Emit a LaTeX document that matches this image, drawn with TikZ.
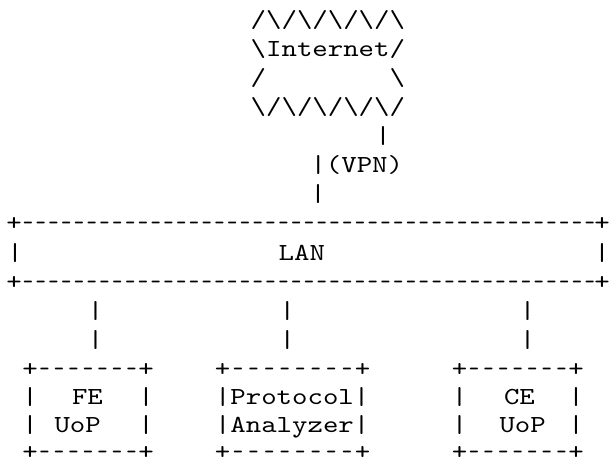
\documentclass[tikz,border=0pt]{standalone}
\usepackage{fontspec}
\newfontfamily\asciifont{lmmono10-regular.otf}[FakeStretch=1.2]
\newfontfamily\dashfont{lmmono10-regular.otf}[FakeStretch=0.8]
\newcommand{\bksl}{\textbackslash}

\tikzset{
	asc/.style={font={\asciifont\fontsize{24.5}{29}\selectfont}, inner sep=0pt, anchor=base},
	ascrun/.style={asc, anchor=base west},
	dashmark/.style={asc, font={\dashfont\fontsize{24.5}{29}\selectfont}},
}

\begin{document}
\begin{tikzpicture}[x=1pt, y=-1pt]
	\useasboundingbox (0,0) rectangle (610,466);
	
	% Internet cloud
	\node[ascrun] (netA) at (250.5,27.2) {/\bksl/\bksl/\bksl/\bksl/\bksl};
	\node[ascrun] (netB) at (250.5,56.3) {\bksl Internet/};
	\node[ascrun] (netC) at (250.5,85.4) {/};
	\node[ascrun] (netD) at (389.4,85.4) {\bksl};
	\node[ascrun] (netE) at (250.5,114.5) {\bksl/\bksl/\bksl/\bksl/\bksl/};
	
	% VPN link
	\node[asc] (vpnA) at (383,143.6) {|};
	\node[ascrun] (vpnB) at (310.3,172.7) {|(VPN)};
	\node[asc] (vpnC) at (318,201.8) {|};
	
	% LAN
	\node[asc] (lanTL) at (14,230.9) {+};
	\node[asc] (lanTR) at (602,230.9) {+};
	\node[asc] (lanBL) at (14,289.1) {+};
	\node[asc] (lanBR) at (602,289.1) {+};
	\foreach \i in {0,...,44} {
		\node[dashmark] (lanT\i) at (28+12.77*\i,230.9) {-};
		\node[dashmark] (lanB\i) at (28+12.77*\i,289.1) {-};
	}
	\node[asc] (lanL) at (15,260) {|};
	\node[ascrun] (lanName) at (278.5,260) {LAN};
	\node[asc] (lanR) at (602,260) {|};
	
	% Links to the boxes
	\foreach \x/\n in {95.7/fe, 287.3/pa, 527.7/ce} {
		\node[asc] (\n LinkA) at (\x,318.2) {|};
		\node[asc] (\n LinkB) at (\x,347.3) {|};
	}
	
	% Box borders: name/left/right/number of dashes
	\foreach \n/\xl/\xr/\k in {fe/30/146/7, pa/222.5/362.5/8, ce/459.5/576/7} {
		\node[asc] (\n TL) at (\xl,376.4) {+};
		\node[asc] (\n TR) at (\xr,376.4) {+};
		\node[asc] (\n BL) at (\xl,459) {+};
		\node[asc] (\n BR) at (\xr,459) {+};
		\foreach \j in {1,...,\k} {
			\node[dashmark] (\n T\j) at ({\xl+(\xr-\xl)*\j/(\k+1)},376.4) {-};
			\node[dashmark] (\n B\j) at ({\xl+(\xr-\xl)*\j/(\k+1)},459) {-};
		}
	}
	
	% FE UoP
	\node[asc] (feL1) at (30,404.5) {|};
	\node[ascrun] (feName) at (71.8,404.5) {FE};
	\node[asc] (feR1) at (146,404.5) {|};
	\node[asc] (feL2) at (30,432.5) {|};
	\node[ascrun] (feUop) at (54.3,432.5) {UoP};
	\node[asc] (feR2) at (146,432.5) {|};
	
	% Protocol Analyzer
	\node[ascrun] (paName) at (214.8,404.5) {|Protocol|};
	\node[ascrun] (paName2) at (214.8,432.5) {|Analyzer|};
	
	% CE UoP
	\node[asc] (ceL1) at (459.5,404.5) {|};
	\node[ascrun] (ceName) at (503.8,404.5) {CE};
	\node[asc] (ceR1) at (576,404.5) {|};
	\node[asc] (ceL2) at (459.5,432.5) {|};
	\node[ascrun] (ceUop) at (499.3,432.5) {UoP};
	\node[asc] (ceR2) at (576,432.5) {|};
	
\end{tikzpicture}
\end{document}
